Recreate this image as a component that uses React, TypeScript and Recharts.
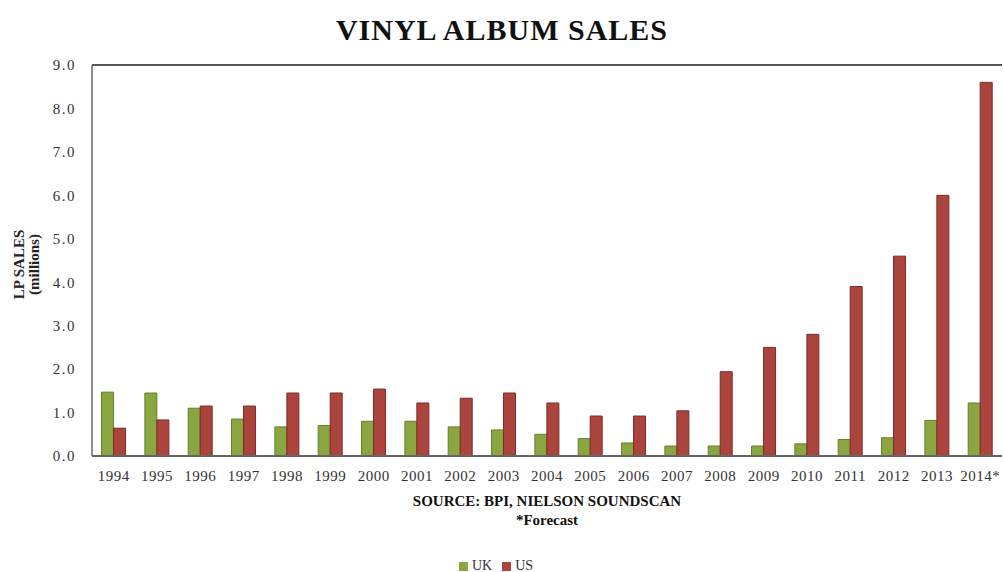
import React from 'react'
import { BarChart, Bar, XAxis, YAxis, CartesianGrid, Legend, ReferenceLine } from 'recharts'

const years = ['1994', '1995', '1996', '1997', '1998', '1999', '2000', '2001', '2002', '2003', '2004', '2005', '2006', '2007', '2008', '2009', '2010', '2011', '2012', '2013', '2014*']
const ukSales = [1.47, 1.45, 1.1, 0.85, 0.67, 0.7, 0.8, 0.8, 0.67, 0.6, 0.5, 0.4, 0.3, 0.23, 0.23, 0.23, 0.28, 0.38, 0.42, 0.82, 1.22]
const usSales = [0.64, 0.83, 1.15, 1.15, 1.45, 1.45, 1.54, 1.22, 1.33, 1.45, 1.22, 0.92, 0.92, 1.04, 1.94, 2.5, 2.8, 3.9, 4.6, 6.0, 8.6]
const yTicks = [0, 1, 2, 3, 4, 5, 6, 7, 8, 9]

const data = years.map((year, i) => ({ year, UK: ukSales[i], US: usSales[i] }))

const serif = '"Liberation Serif", "DejaVu Serif", serif'

const YLabel = (props: any) => {
  const { viewBox } = props
  const cx = 27
  const cy = viewBox.y + viewBox.height / 2 + 4
  return (
    <text
      x={cx}
      y={cy}
      transform={`rotate(-90, ${cx}, ${cy})`}
      textAnchor="middle"
      fontFamily={serif}
      fontWeight="bold"
      fontSize={15}
      fill="#222"
    >
      <tspan x={cx} dy={-3}>LP SALES</tspan>
      <tspan x={cx} dy={15}>(millions)</tspan>
    </text>
  )
}

export default function App() {
  return (
    <div style={{ position: 'absolute', left: 0, top: 0, width: 1004, height: 572, background: '#fff' }}>
      <div
        style={{
          position: 'absolute', top: 13, left: 0, width: 1004, textAlign: 'center',
          fontFamily: serif, fontWeight: 'bold', fontSize: 30, letterSpacing: 1, color: '#111',
        }}
      >
        VINYL ALBUM SALES
      </div>
      <BarChart
        width={1004}
        height={572}
        data={data}
        margin={{ top: 65, right: 2, left: 0, bottom: 2 }}
        barGap={0}
        barCategoryGap="22%"
      >
        <CartesianGrid vertical={false} stroke="#c8c8c8" strokeWidth={1.5} />
        <XAxis
          dataKey="year"
          height={94}
          interval={0}
          tickLine={false}
          tickMargin={8}
          axisLine={{ stroke: '#666', strokeWidth: 2 }}
          tick={{ fontFamily: serif, fontSize: 15, fill: '#333', letterSpacing: 0.5 }}
        />
        <YAxis
          yAxisId="left"
          width={92}
          domain={[0, 9]}
          ticks={yTicks}
          tickFormatter={(v: number) => v.toFixed(1)}
          tickLine={false}
          axisLine={{ stroke: '#666', strokeWidth: 1.5 }}
          tick={{ fontFamily: serif, fontSize: 15, fill: '#333', letterSpacing: 1.5 }}
          tickMargin={10}
          label={<YLabel />}
        />
        <YAxis
          yAxisId="right"
          orientation="right"
          width={0}
          domain={[0, 9]}
          tick={false}
          tickLine={false}
          axisLine={{ stroke: '#666', strokeWidth: 1.5 }}
        />
        <ReferenceLine yAxisId="left" y={9} stroke="#555" strokeWidth={2} />
        <Legend
          verticalAlign="bottom"
          align="center"
          iconType="square"
          iconSize={9}
          wrapperStyle={{ height: 20, bottom: -6, fontFamily: serif, fontSize: 14 }}
          formatter={(value: string) => <span style={{ color: '#333' }}>{value}</span>}
        />
        <Bar yAxisId="left" dataKey="UK" fill="#8aa640" stroke="#64802c" strokeWidth={1} isAnimationActive={false} />
        <Bar yAxisId="left" dataKey="US" fill="#ab443d" stroke="#7a2c27" strokeWidth={1} isAnimationActive={false} />
      </BarChart>
      <div
        style={{
          position: 'absolute', top: 492, left: 92, width: 910, textAlign: 'center',
          fontFamily: serif, fontWeight: 'bold', fontSize: 15, color: '#111', lineHeight: '19px',
        }}
      >
        SOURCE: BPI, NIELSON SOUNDSCAN
        <br />
        *Forecast
      </div>
    </div>
  )
}
